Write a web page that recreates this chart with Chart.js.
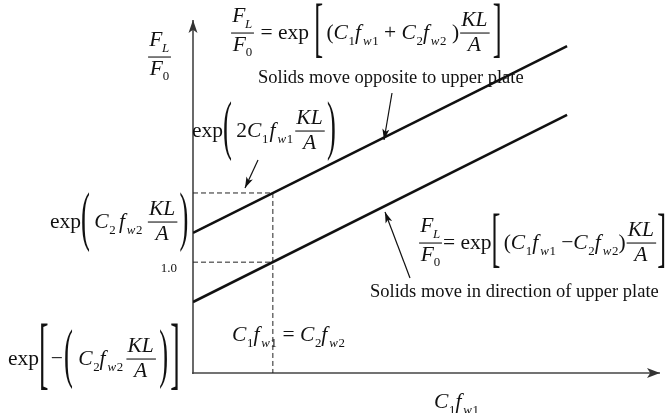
<!DOCTYPE html>
<html>
<head>
<meta charset="utf-8">
<script src="https://cdn.jsdelivr.net/npm/chart.js@4"></script>
<style>
  html, body { margin: 0; padding: 0; background: #fff; }
  canvas { display: block; }
</style>
</head>
<body>
<canvas id="chart" width="667" height="413"></canvas>
<script>
// ---- diagram values (dimensionless units on both axes) ----
const lineX = [0, 8.01];              // C1 fw1 along the horizontal axis
const upperY = [3.97, 9.26];          // solids move opposite to upper plate
const lowerY = [2.01, 7.31];          // solids move in direction of upper plate
const crossX = 1.71;                  // where C1 fw1 = C2 fw2
const crossUpperY = 5.10;             // exp(2 C1 fw1 KL/A)
const crossLowerY = 3.14;             // F_L / F_0 = 1.0
const unitTickLabel = '1.0';
const axisMax = { x: 10, y: 10 };

// ---- small math typesetter for canvas ----
const SERIF = '"Liberation Serif", "Times New Roman", serif';
function setFont(ctx, sz, it) { ctx.font = (it ? 'italic ' : '') + sz + 'px ' + SERIF; }
const T = (s) => ({ k: 't', s, it: true });
const N = (s) => ({ k: 't', s, it: false });
const G = (w) => ({ k: 'gap', w });
const R = (...items) => ({ k: 'row', items });
const Sb = (base, sub, kern) => ({ k: 'sub', base, sub, kern: kern || 0 });
const F = (num, den) => ({ k: 'frac', num, den });
const D = (o, c, body) => ({ k: 'del', o, c, body });

const C = (n) => Sb(T('C'), N(n), -0.02);
const fw = (n) => Sb(T('f'), R(T('w'), N(n)), 0.04);
const KLA = () => F(T('KL'), T('A'));
const FL = () => Sb(T('F'), T('L'), -0.06);
const F0 = () => Sb(T('F'), N('0'), -0.06);

function measure(ctx, n, sz) {
  switch (n.k) {
    case 't': {
      setFont(ctx, sz, n.it);
      return { w: ctx.measureText(n.s).width + (n.it ? sz * 0.05 : 0), a: sz * 0.7, d: sz * 0.2 };
    }
    case 'gap': return { w: n.w * sz / 20, a: 0, d: 0 };
    case 'row': {
      let w = 0, a = 0, d = 0;
      for (const it of n.items) { const m = measure(ctx, it, sz); w += m.w; a = Math.max(a, m.a); d = Math.max(d, m.d); }
      return { w, a, d };
    }
    case 'sub': {
      const b = measure(ctx, n.base, sz), s = measure(ctx, n.sub, sz * 0.6);
      const drop = sz * 0.27;
      return { w: b.w + n.kern * sz + s.w, a: b.a, d: Math.max(b.d, drop + s.d) };
    }
    case 'frac': {
      const nu = measure(ctx, n.num, sz), de = measure(ctx, n.den, sz);
      const ax = sz * 0.27, g = sz * 0.12;
      return { w: Math.max(nu.w, de.w) + sz * 0.2, a: ax + g + nu.d + nu.a, d: g + de.a + de.d - ax };
    }
    case 'del': {
      const b = measure(ctx, n.body, sz), ax = sz * 0.27;
      const half = Math.max(b.a - ax, b.d + ax) + sz * 0.33;
      const k = (2 * half) / (sz * 0.9);
      const kx = 1 + (k - 1) * 0.12;
      setFont(ctx, sz, false);
      const wo = ctx.measureText(n.o).width * kx, wc = ctx.measureText(n.c).width * kx;
      return { w: wo + b.w + wc, a: ax + half, d: half - ax, k, kx, wo, wc, bw: b.w };
    }
  }
}

function draw(ctx, n, sz, x, y) {
  const m = measure(ctx, n, sz);
  switch (n.k) {
    case 't':
      setFont(ctx, sz, n.it);
      ctx.fillText(n.s, x, y);
      break;
    case 'row': {
      let cx = x;
      for (const it of n.items) { const mi = measure(ctx, it, sz); draw(ctx, it, sz, cx, y); cx += mi.w; }
      break;
    }
    case 'sub': {
      const b = measure(ctx, n.base, sz);
      draw(ctx, n.base, sz, x, y);
      draw(ctx, n.sub, sz * 0.6, x + b.w + n.kern * sz, y + sz * 0.27);
      break;
    }
    case 'frac': {
      const nu = measure(ctx, n.num, sz), de = measure(ctx, n.den, sz);
      const ax = sz * 0.27, g = sz * 0.12;
      const barY = y - ax;
      draw(ctx, n.num, sz, x + (m.w - nu.w) / 2, barY - g - nu.d);
      draw(ctx, n.den, sz, x + (m.w - de.w) / 2, barY + g + de.a);
      ctx.fillRect(x + sz * 0.05, barY - 0.5, m.w - sz * 0.1, Math.max(1, sz * 0.05));
      break;
    }
    case 'del': {
      const ax = sz * 0.27, axisY = y - ax;
      setFont(ctx, sz, false);
      for (const [ch, px] of [[n.o, x], [n.c, x + m.wo + m.bw]]) {
        ctx.save();
        ctx.translate(px, axisY);
        ctx.scale(m.kx, m.k);
        ctx.fillText(ch, 0, sz * 0.255);
        ctx.restore();
      }
      draw(ctx, n.body, sz, x + m.wo, y);
      break;
    }
  }
}

// formula placed by its left edge and the height of its fraction bars
function placeMath(ctx, node, sz, left, axisY) { draw(ctx, node, sz, left, axisY + sz * 0.27); }

function arrow(ctx, x1, y1, x2, y2, len, wid) {
  ctx.beginPath(); ctx.moveTo(x1, y1); ctx.lineTo(x2, y2); ctx.stroke();
  const a = Math.atan2(y2 - y1, x2 - x1);
  ctx.save(); ctx.translate(x2, y2); ctx.rotate(a);
  ctx.beginPath();
  ctx.moveTo(0, 0); ctx.lineTo(-len, -wid / 2); ctx.lineTo(-len * 0.75, 0); ctx.lineTo(-len, wid / 2);
  ctx.closePath(); ctx.fill();
  ctx.restore();
}

const diagramPlugin = {
  id: 'diagram',
  beforeDatasetsDraw(chart) {
    const { ctx, chartArea: ca, scales: { x, y } } = chart;
    const x0 = x.getPixelForValue(0), y0 = y.getPixelForValue(0);
    ctx.save();
    ctx.strokeStyle = '#444'; ctx.fillStyle = '#333'; ctx.lineWidth = 1.6;
    arrow(ctx, x0, y0 + 1, x0, ca.top, 13, 9);
    arrow(ctx, x0 - 1, y0, ca.right, y0, 13, 10);
    ctx.restore();
  },
  afterDatasetsDraw(chart) {
    const { ctx, scales: { x, y } } = chart;
    ctx.save();
    ctx.fillStyle = '#111'; ctx.strokeStyle = '#111'; ctx.textBaseline = 'alphabetic';
    const sz = 21.5;

    // vertical axis title
    placeMath(ctx, F(FL(), F0()), sz, 147, 57);
    // upper relation
    placeMath(ctx, R(F(FL(), F0()), N(' = exp'), G(5),
      D('[', ']', R(G(3), N('('), C('1'), fw('1'), N(' + '), C('2'), fw('2'), N(' )'), KLA(), G(2)))), sz, 230, 33);
    ctx.font = '18.5px ' + SERIF;
    ctx.fillText('Solids move opposite to upper plate', 258, 83);

    // value at the crossing, upper line
    placeMath(ctx, R(N('exp'), D('(', ')', R(G(4), N('2'), C('1'), G(1), fw('1'), G(1), KLA(), G(1)))), sz, 192, 131);
    // intercept of the upper line
    placeMath(ctx, R(N('exp'), D('(', ')', R(G(4), C('2'), G(3), fw('2'), G(4), KLA(), G(1)))), sz, 50, 222);
    // unit level
    ctx.font = '13px ' + SERIF; ctx.textAlign = 'right';
    ctx.fillText(unitTickLabel, x.getPixelForValue(0) - 16, y.getPixelForValue(crossLowerY) + 10);
    ctx.textAlign = 'left';
    // lower relation
    placeMath(ctx, R(F(FL(), F0()), N('= exp'),
      D('[', ']', R(G(3), N('('), C('1'), fw('1'), N(' \u2212'), C('2'), fw('2'), N(')'), KLA()))), sz, 418, 243);
    ctx.font = '18.5px ' + SERIF;
    ctx.fillText('Solids move in direction of upper plate', 370, 297);
    // crossing condition
    placeMath(ctx, R(C('1'), fw('1'), N(' = '), C('2'), fw('2')), sz, 232, 335);
    // intercept of the lower line
    placeMath(ctx, R(N('exp'), D('[', ']', R(G(2), N('\u2212'), G(1), D('(', ')', R(G(5), C('2'), fw('2'), G(2), KLA(), G(2))), G(2)))), sz, 8, 359);
    // horizontal axis title
    placeMath(ctx, R(C('1'), fw('1')), sz, 434, 402);

    // pointers
    ctx.lineWidth = 1.2; ctx.fillStyle = '#111';
    arrow(ctx, 392, 93, 384, 140, 11, 7);
    arrow(ctx, 410, 278, 385, 212, 11, 7);
    arrow(ctx, 258, 160, 245, 188, 11, 7);
    ctx.restore();
  }
};

const seg = (xs, ys) => xs.map((v, i) => ({ x: v, y: ys[i] }));
const solid = { borderColor: '#111', borderWidth: 2.6, pointRadius: 0, showLine: true, fill: false };
const dashed = { borderColor: '#222', borderWidth: 1, borderDash: [5, 3], pointRadius: 0, showLine: true, fill: false };

new Chart(document.getElementById('chart'), {
  type: 'scatter',
  data: {
    datasets: [
      { label: 'opposite', data: seg(lineX, upperY), ...solid },
      { label: 'same direction', data: seg(lineX, lowerY), ...solid },
      { label: 'upper level', data: seg([0, crossX], [crossUpperY, crossUpperY]), ...dashed },
      { label: 'unit level', data: seg([0, crossX], [crossLowerY, crossLowerY]), ...dashed },
      { label: 'crossing', data: seg([crossX, crossX], [crossUpperY, 0]), ...dashed }
    ]
  },
  options: {
    responsive: false,
    animation: false,
    devicePixelRatio: 1,
    layout: { padding: { left: 193, top: 20, right: 7, bottom: 40 } },
    plugins: { legend: { display: false }, tooltip: { enabled: false } },
    scales: {
      x: { type: 'linear', min: 0, max: axisMax.x, display: false },
      y: { type: 'linear', min: 0, max: axisMax.y, display: false }
    }
  },
  plugins: [diagramPlugin]
});
</script>
</body>
</html>
